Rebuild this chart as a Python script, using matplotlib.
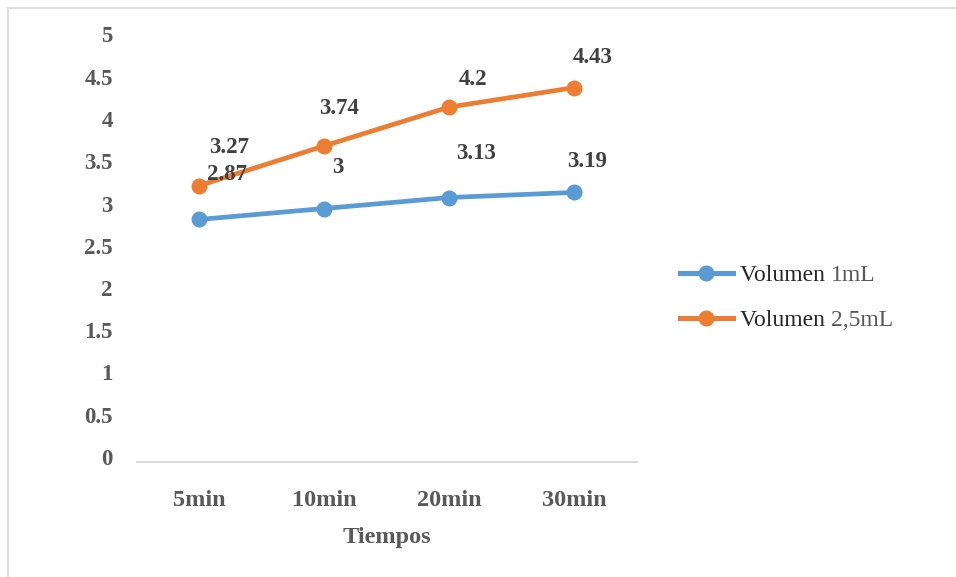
import matplotlib
matplotlib.use("Agg")
import matplotlib.pyplot as plt
import matplotlib.transforms as mtransforms
from matplotlib.lines import Line2D
from matplotlib.patches import Rectangle

tiempos = ["5min", "10min", "20min", "30min"]
volumen_1ml = [2.87, 3.0, 3.13, 3.19]
volumen_25ml = [3.27, 3.74, 4.2, 4.43]
series_names = ["Volumen 1mL", "Volumen 2,5mL"]
y_ticks = [0, 0.5, 1, 1.5, 2, 2.5, 3, 3.5, 4, 4.5, 5]

# label offsets in pixels (dx, dy) for each point
off_1ml = [(28, 45), (14, 41), (27, 44), (13, 31)]
off_25ml = [(30, 38), (15, 37), (24, 28), (19, 30)]

BLUE = "#5B9BD5"
ORANGE = "#ED7D31"
GRAY = "#595959"
LABEL = "#404040"

plt.rcParams["font.family"] = ["Liberation Serif", "DejaVu Serif"]

W, H = 956, 577
fig = plt.figure(figsize=(W / 100, H / 100), dpi=100)
fig.patches.append(Rectangle((8 / W, -0.1), 1.2, 1.1 - 8 / H,
                             transform=fig.transFigure, fill=False,
                             edgecolor="#D9D9D9", linewidth=1.2))

ax = fig.add_axes([136.5 / W, 1 - 462 / H, 500 / W, 422.5 / H])
x = list(range(len(tiempos)))

series = [(volumen_1ml, BLUE, off_1ml), (volumen_25ml, ORANGE, off_25ml)]
for vals, color, offs in series:
    ax.plot(x, vals, color=color, linewidth=3.4, marker="o", markersize=10.5,
            solid_capstyle="round", zorder=3)
    for xi, v, (dx, dy) in zip(x, vals, offs):
        ax.annotate(f"{v:g}", (xi, v), xytext=(dx, dy), textcoords="offset pixels",
                    ha="center", va="center", fontsize=16.5, fontweight="bold",
                    color=LABEL, zorder=4)

ax.set_xlim(-0.5, len(tiempos) - 0.5)
ax.set_ylim(0, 5)
ax.set_xticks(x)
ax.set_xticklabels(tiempos)
ax.set_yticks(y_ticks)
ax.set_yticklabels([f"{t:g}" for t in y_ticks])
ax.tick_params(length=0)
ax.tick_params(axis="x", pad=20, labelsize=17.5, labelcolor=GRAY)
ax.tick_params(axis="y", pad=17, labelsize=16.5, labelcolor=GRAY)
shift_up = mtransforms.ScaledTranslation(0, 5 / 100, fig.dpi_scale_trans)
for lab in ax.get_yticklabels():
    lab.set_fontweight("bold")
    lab.set_transform(lab.get_transform() + shift_up)
for lab in ax.get_xticklabels():
    lab.set_fontweight("bold")
for s in ["top", "right", "left"]:
    ax.spines[s].set_visible(False)
ax.spines["bottom"].set_color("#D9D9D9")
ax.spines["bottom"].set_linewidth(1.5)
ax.set_xlabel("Tiempos", fontsize=17.5, fontweight="bold", color=GRAY, labelpad=12)

# legend drawn by hand so the two parts of each name can have their own colour
for i, (name, color) in enumerate(zip(series_names, [BLUE, ORANGE])):
    yy = 1 - (273 + 45 * i) / H
    fig.add_artist(Line2D([680 / W, 733 / W], [yy, yy], color=color,
                          linewidth=3.6, transform=fig.transFigure))
    fig.add_artist(Line2D([706 / W], [yy], color=color, marker="o",
                          markersize=10.5, transform=fig.transFigure))
    first, rest = name.split(" ", 1)
    t1 = fig.text(740 / W, yy, first + " ", fontsize=17, color="#262626",
                  va="center_baseline", ha="left")
    ax.annotate(rest, xy=(1, 0), xycoords=t1, fontsize=17, color=GRAY,
                va="bottom", ha="left")

fig.savefig("out.png", dpi=100)
